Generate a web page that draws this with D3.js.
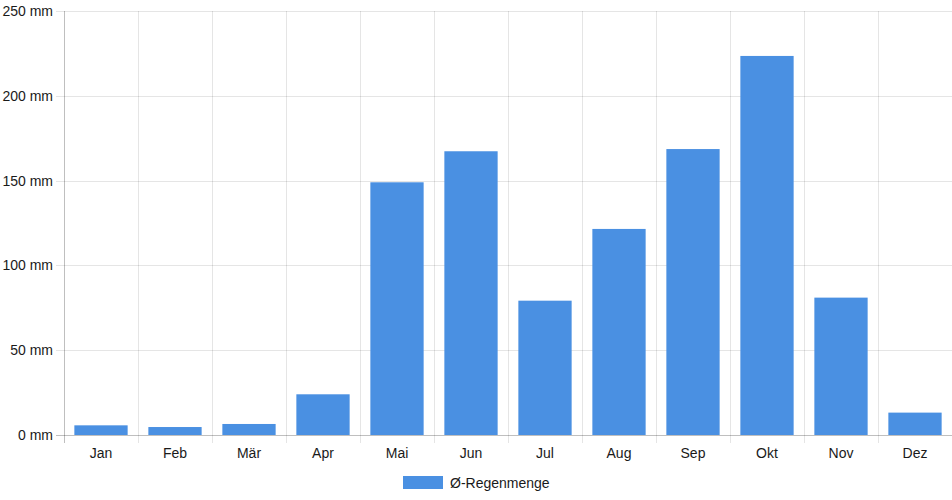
<!DOCTYPE html>
<html>
<head>
<meta charset="utf-8">
<script src="https://cdn.jsdelivr.net/npm/d3@7"></script>
<style>
  body { margin: 0; background: #fff; }
  text { font-family: "Liberation Sans", Arial, sans-serif; }
</style>
</head>
<body>
<svg id="chart" width="952" height="500"></svg>
<script>
// monthly average rainfall
var months = ["Jan","Feb","Mär","Apr","Mai","Jun","Jul","Aug","Sep","Okt","Nov","Dez"];
var rain = [5.7, 4.7, 6.5, 24, 149, 167.3, 79.2, 121.5, 168.6, 223.5, 81, 13.2];
var yTicks = [0, 50, 100, 150, 200, 250];
var seriesName = "Ø-Regenmenge";

var svg = d3.select("#chart");
var pl = 64, pr = 952, pt = 11, pb = 435;
var blue = "#4a90e2";

var x = d3.scaleBand().domain(months).range([pl, pr]);
var y = d3.scaleLinear().domain([0, 250]).range([pb, pt]);

// horizontal grid
svg.append("g")
  .selectAll("line")
  .data(yTicks)
  .enter()
  .append("line")
  .attr("x1", pl - 8)
  .attr("x2", pr)
  .attr("y1", (d) => Math.round(y(d)) + 0.5)
  .attr("y2", (d) => Math.round(y(d)) + 0.5)
  .attr("stroke", (d) => d === 0 ? "rgba(0,0,0,0.25)" : "rgba(0,0,0,0.1)");

// vertical grid at category edges
var edges = months.map((m) => x(m)).concat([pr]);
svg.append("g")
  .selectAll("line")
  .data(edges)
  .enter()
  .append("line")
  .attr("x1", (d) => Math.round(d) + 0.5)
  .attr("x2", (d) => Math.round(d) + 0.5)
  .attr("y1", pt)
  .attr("y2", pb + 8)
  .attr("stroke", (_, i) => i === 0 ? "rgba(0,0,0,0.25)" : "rgba(0,0,0,0.1)");

// y labels
svg.append("g")
  .selectAll("text")
  .data(yTicks)
  .enter()
  .append("text")
  .attr("x", pl - 11)
  .attr("y", (d) => y(d) + 5)
  .attr("text-anchor", "end")
  .style("font-size", "14px")
  .style("fill", "#1a1a1a")
  .text((d) => d + " mm");

// x labels
svg.append("g")
  .selectAll("text")
  .data(months)
  .enter()
  .append("text")
  .attr("x", (d) => x(d) + x.bandwidth() / 2)
  .attr("y", pb + 23)
  .attr("text-anchor", "middle")
  .style("font-size", "14px")
  .style("fill", "#1a1a1a")
  .text((d) => d);

// bars: 90% of 80% of the band
var bw = x.bandwidth() * 0.72;
svg.append("g")
  .selectAll("rect")
  .data(rain)
  .enter()
  .append("rect")
  .attr("x", (_, i) => x(months[i]) + (x.bandwidth() - bw) / 2)
  .attr("y", (d) => y(d))
  .attr("width", bw)
  .attr("height", (d) => pb - y(d))
  .attr("fill", blue);

// legend
var lg = svg.append("g").attr("transform", "translate(403,476)");
lg.append("rect")
  .attr("width", 40)
  .attr("height", 13)
  .attr("fill", blue);
lg.append("text")
  .attr("x", 47)
  .attr("y", 12)
  .style("font-size", "14px")
  .style("fill", "#1a1a1a")
  .text(seriesName);
</script>
</body>
</html>
